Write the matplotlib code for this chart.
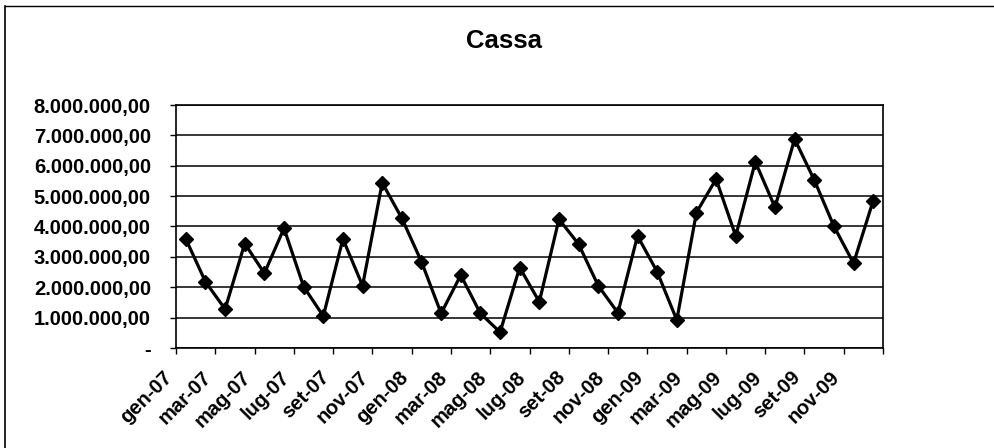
import matplotlib
matplotlib.use("Agg")
import matplotlib.pyplot as plt
from matplotlib.lines import Line2D

months = ["gen", "feb", "mar", "apr", "mag", "giu", "lug", "ago", "set", "ott", "nov", "dic"]
years = ["07", "08", "09"]
categories = [f"{m}-{y}" for y in years for m in months]

values = [3.59, 2.18, 1.28, 3.44, 2.46, 3.94, 2.02, 1.05, 3.59, 2.05, 5.44, 4.27,
          2.84, 1.14, 2.40, 1.14, 0.52, 2.65, 1.52, 4.24, 3.42, 2.05, 1.16, 3.69,
          2.51, 0.92, 4.46, 5.56, 3.69, 6.13, 4.63, 6.88, 5.53, 4.01, 2.79, 4.85]
values = [v * 1_000_000 for v in values]

yticks = [0, 1e6, 2e6, 3e6, 4e6, 5e6, 6e6, 7e6, 8e6]
ytick_labels = ["-", "1.000.000,00", "2.000.000,00", "3.000.000,00", "4.000.000,00",
                "5.000.000,00", "6.000.000,00", "7.000.000,00", "8.000.000,00"]
xtick_labels = categories[::2]

title = "Cassa"

W, H = 994, 448
fig = plt.figure(figsize=(W / 100, H / 100), dpi=100)
fig.patch.set_facecolor("white")

ax = fig.add_axes([176 / W, 1 - 348 / H, 707 / W, 243 / H])
x = list(range(len(categories)))
ax.plot(x, values, color="black", lw=2.3, marker="D", markersize=7,
        markerfacecolor="black", markeredgecolor="black", zorder=3)

ax.set_xlim(-0.5, len(categories) - 0.5)
ax.set_ylim(0, 8e6)
ax.set_yticks(yticks)
ax.set_yticklabels(ytick_labels)
ax.yaxis.grid(True, color="black", lw=1.1)
ax.set_axisbelow(True)

xt = [i - 0.5 for i in range(0, len(categories) + 1, 2)]
ax.set_xticks(xt)
ax.set_xticklabels(xtick_labels + [""], rotation=45, ha="right")

for s in ax.spines.values():
    s.set_color("black")
    s.set_linewidth(1.2)

fnt = "Liberation Sans"
ax.tick_params(axis="both", direction="out", length=4, width=1, color="black")
ax.tick_params(axis="y", pad=14)
ax.tick_params(axis="x", pad=10)
for lab in ax.get_yticklabels():
    lab.set_fontfamily(fnt)
    lab.set_fontweight("bold")
    lab.set_fontsize(14.5)
for lab in ax.get_xticklabels():
    lab.set_fontfamily(fnt)
    lab.set_fontweight("bold")
    lab.set_fontsize(14.5)

fig.text(504 / W, 1 - 41 / H, title, ha="center", va="center",
         fontfamily=fnt, fontweight="heavy", fontsize=18.5)

# outer chart border (left and top visible)
fig.add_artist(Line2D([5 / W, 5 / W], [0, 1 - 6 / H], transform=fig.transFigure,
                      color="black", lw=1.2))
fig.add_artist(Line2D([5 / W, 1], [1 - 6 / H, 1 - 6 / H], transform=fig.transFigure,
                      color="black", lw=1.0))

fig.savefig("out.png", dpi=100)
